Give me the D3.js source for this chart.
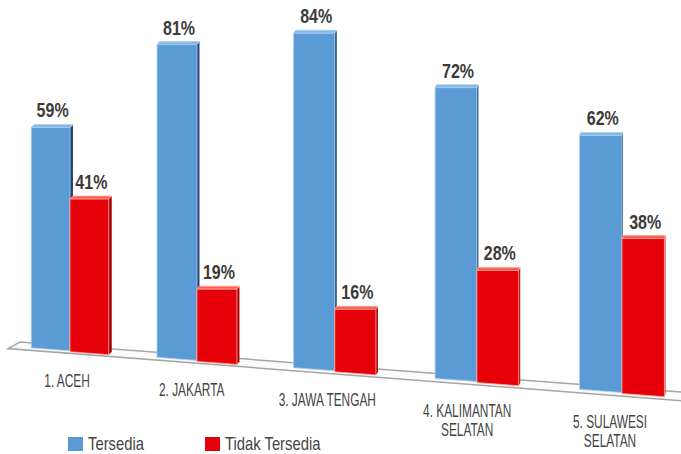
<!DOCTYPE html>
<html>
<head>
<meta charset="utf-8">
<script src="https://cdn.jsdelivr.net/npm/d3@7"></script>
<style>
  html, body { margin: 0; padding: 0; background: #ffffff; }
  svg { display: block; }
  text { font-family: "Liberation Sans", Arial, sans-serif; }
</style>
</head>
<body>
<svg id="chart" width="681" height="454"></svg>
<script>
// Ketersediaan per provinsi (persen)
const categoryLines = [
  ["1. ACEH"],
  ["2. JAKARTA"],
  ["3. JAWA TENGAH"],
  ["4. KALIMANTAN", "SELATAN"],
  ["5. SULAWESI", "SELATAN"]
];
const tersedia = [59, 81, 84, 72, 62];
const tidakTersedia = [41, 19, 16, 28, 38];
const seriesNames = ["Tersedia", "Tidak Tersedia"];

const W = 681, H = 454;
const svg = d3.select("#chart");
const n = categoryLines.length;

// Perspective: groups further right are nearer, so spacing, width and height scale grow
const xCenter = d3.scalePow().exponent(1.06).domain([0, n - 1]).range([70, 622]);
const pxPerPoint = d3.scaleLinear().domain([0, 2, 4]).range([3.76, 4.0, 4.12]);
const floorY = d3.scaleLinear().domain([0, W]).range([345.5, 397]);
const barWidthUnits = 10.3;
const sideDepth = d3.scaleLinear().domain([0, n - 1]).range([3, 1]);
const labelShift = d3.scaleLinear().domain([0, n - 1]).range([-3, -12]);

const styles = [
  { front: "#5B9BD5", top: "#86b7e6", side: "#25487a", edge: "#a9cdef", offset: 0 },
  { front: "#E6000A", top: "#ff5b4d", side: "#a80000", edge: "#ffa796", offset: 1 }
];

// Condensed text: a horizontally squeezed glyph run anchored at (x, y)
function condensed(parent, x, y, sx) {
  return parent.append("g")
    .attr("transform", `translate(${x},${y})`)
    .append("text")
    .attr("transform", `scale(${sx},1)`);
}

// Floor plate
const floor = svg.append("g");
const backLine = x => floorY(x) - 5;
const frontLine = x => floorY(x) + 2.5 + (x - 8) * 0.0018;
floor.append("path")
  .attr("d", `M${W},${backLine(W)} L20,${backLine(20)} L8,${frontLine(8)} L${W},${frontLine(W)}`)
  .attr("fill", "#fbfbfb")
  .attr("stroke", "#a6a6a6")
  .attr("stroke-width", 1.5);

const bars = [];
d3.range(n).forEach(i => {
  const k = pxPerPoint(i);
  const h = d3.scaleLinear().domain([0, 100]).range([0, 100 * k]);
  const w = k * barWidthUnits;
  const c = xCenter(i);
  [tersedia[i], tidakTersedia[i]].forEach((v, s) => {
    const x0 = s === 0 ? c - w : c;
    const x1 = x0 + w;
    const off = styles[s].offset;
    const yT = floorY((x0 + x1) / 2) + off - h(v);
    bars.push({ i, s, v, x0, x1, yT, yB0: floorY(x0) + off, yB1: floorY(x1) + off, d: sideDepth(i) });
  });
});

const g = svg.append("g");
bars.forEach(b => {
  const st = styles[b.s];
  const dy = 3;
  // right side face
  g.append("path")
    .attr("d", `M${b.x1},${b.yT} L${b.x1 + b.d},${b.yT - dy} L${b.x1 + b.d},${b.yB1 - dy} L${b.x1},${b.yB1} Z`)
    .attr("fill", st.side);
  // top face
  g.append("path")
    .attr("d", `M${b.x0},${b.yT} L${b.x0 + b.d},${b.yT - dy} L${b.x1 + b.d},${b.yT - dy} L${b.x1},${b.yT} Z`)
    .attr("fill", st.top)
    .attr("stroke", st.edge)
    .attr("stroke-width", 0.8);
  // front face
  g.append("path")
    .attr("d", `M${b.x0},${b.yT} L${b.x1},${b.yT} L${b.x1},${b.yB1} L${b.x0},${b.yB0} Z`)
    .attr("fill", st.front)
    .attr("stroke", st.edge)
    .attr("stroke-width", 0.8);
  // value label
  condensed(g, (b.x0 + b.x1) / 2 + 2, b.yT - 10, 0.8)
    .attr("text-anchor", "middle")
    .attr("font-size", 20)
    .attr("font-weight", "bold")
    .attr("fill", "#3b3b3b")
    .text(b.v + "%");
});

// Category labels
const cat = svg.append("g");
categoryLines.forEach((lines, i) => {
  const x = xCenter(i) + labelShift(i);
  const y = floorY(x) + 36;
  const t = condensed(cat, x, y, 0.66)
    .attr("text-anchor", "middle")
    .attr("font-size", 18)
    .attr("fill", "#444444");
  lines.forEach((line, j) => {
    t.append("tspan").attr("x", 0).attr("y", j * 19.5).text(line);
  });
});

// Legend
const legend = svg.append("g");
const legendX = [68, 205];
seriesNames.forEach((name, s) => {
  legend.append("rect")
    .attr("x", legendX[s]).attr("y", 437)
    .attr("width", 15).attr("height", 14)
    .attr("fill", styles[s].front);
  condensed(legend, legendX[s] + 20, 450, 0.8)
    .attr("font-size", 18.5)
    .attr("fill", "#444444")
    .text(name);
});
</script>
</body>
</html>
